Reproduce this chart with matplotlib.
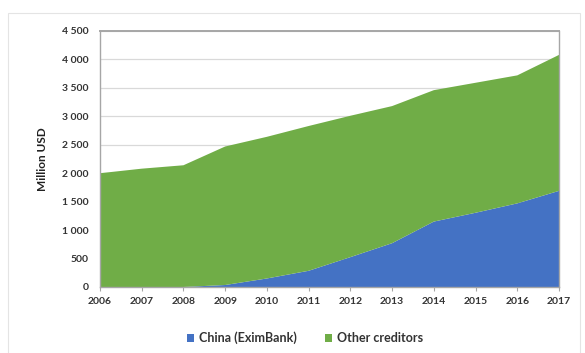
import matplotlib
matplotlib.use("Agg")
import matplotlib.pyplot as plt
from matplotlib.patches import Rectangle

years = [2006, 2007, 2008, 2009, 2010, 2011, 2012, 2013, 2014, 2015, 2016, 2017]
china = [0, 0, 0, 35, 150, 285, 525, 770, 1150, 1305, 1470, 1690]
other = [2000, 2080, 2140, 2435, 2490, 2545, 2485, 2410, 2310, 2285, 2250, 2390]
series_names = ["China (EximBank)", "Other creditors"]
colors = ["#4472C4", "#70AD47"]
yticks = [0, 500, 1000, 1500, 2000, 2500, 3000, 3500, 4000, 4500]
ytick_labels = ["0", "500", "1 000", "1 500", "2 000", "2 500",
                "3 000", "3 500", "4 000", "4 500"]

plt.rcParams['font.family'] = ['Lato', 'DejaVu Sans']

fig = plt.figure(figsize=(5.85, 3.53), dpi=100)
ax = fig.add_axes([100/585, 1 - 287/353, (559-100)/585, (287-31)/353])

# chart area border
fig.patches.append(Rectangle((8/585, -0.1), (580-8)/585, 1.1 - 13/353,
                             transform=fig.transFigure, fill=False,
                             edgecolor="#E4E4E4", linewidth=0.8))

ax.stackplot(years, china, other, colors=colors, labels=series_names, zorder=2)

ax.set_xlim(years[0], years[-1])
ax.set_ylim(0, 4500)
ax.set_xticks(years)
ax.set_xticklabels([str(y) for y in years], fontsize=7.5, fontweight='bold', color="#333333")
ax.set_yticks(yticks)
ax.set_yticklabels(ytick_labels, fontsize=7.5, fontweight='bold', color="#333333")
ax.tick_params(axis='y', length=0, pad=8)
ax.tick_params(axis='x', length=3, color="#A6A6A6", pad=4)
ax.yaxis.grid(True, color="#D9D9D9", linewidth=0.9, zorder=1)
ax.set_axisbelow(True)
for side in ["top", "right", "left", "bottom"]:
    ax.spines[side].set_color("#A6A6A6")
    ax.spines[side].set_linewidth(1.0)
ax.spines["top"].set_linewidth(1.4)

ax.set_ylabel("Million USD", fontsize=8.5, fontweight='bold', color="#222222", labelpad=10)

leg = fig.legend(loc="center", bbox_to_anchor=(305/585, 1 - 338/353), ncol=2,
                 frameon=False, fontsize=9, handlelength=0.6, handleheight=0.6,
                 handletextpad=0.4, columnspacing=2.2)
for t in leg.get_texts():
    t.set_fontweight('bold')
    t.set_color("#333333")

fig.savefig("out.png", dpi=100)
